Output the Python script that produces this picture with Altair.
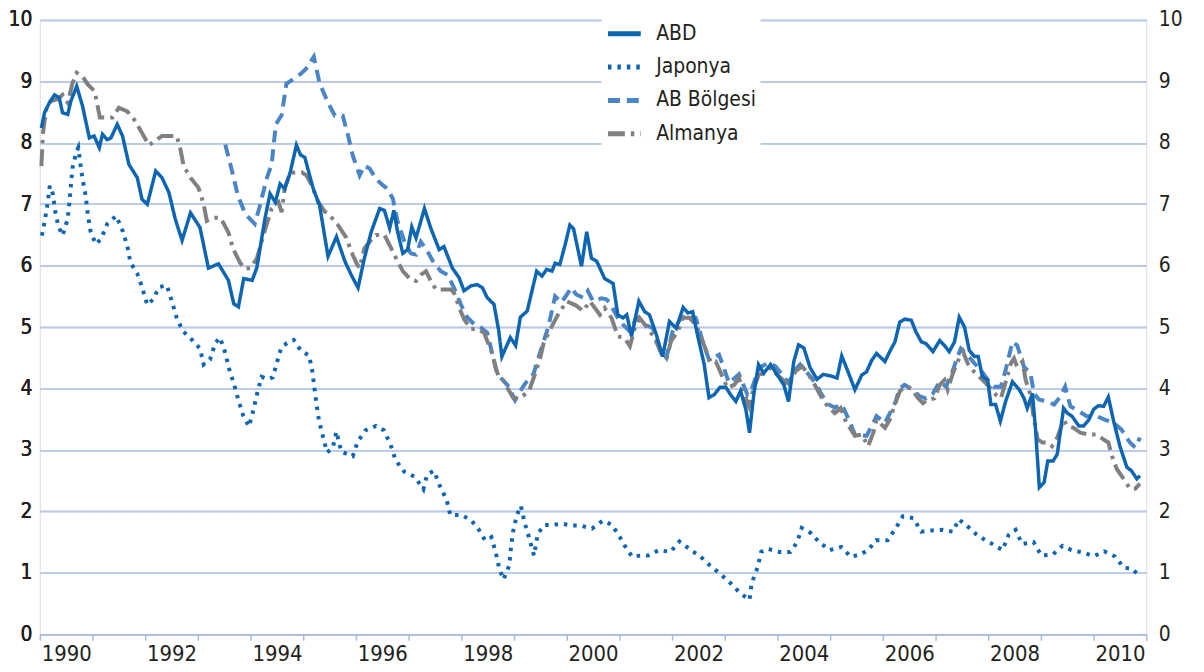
import altair as alt
import pandas as pd

# (decimal year, yield %)
abd = [
    (1990.03, 8.24), (1990.09, 8.49), (1990.18, 8.65), (1990.28, 8.78), (1990.37, 8.73),
    (1990.43, 8.49), (1990.53, 8.46), (1990.59, 8.68), (1990.70, 8.92), (1990.81, 8.60),
    (1990.94, 8.08), (1991.03, 8.11), (1991.13, 7.92), (1991.19, 8.14), (1991.28, 8.05),
    (1991.35, 8.08), (1991.47, 8.30), (1991.57, 8.11), (1991.69, 7.65), (1991.85, 7.43),
    (1991.94, 7.08), (1992.04, 7.00), (1992.20, 7.54), (1992.32, 7.43), (1992.45, 7.19),
    (1992.57, 6.76), (1992.70, 6.41), (1992.86, 6.86), (1993.04, 6.62), (1993.20, 5.96),
    (1993.39, 6.03), (1993.58, 5.76), (1993.68, 5.38), (1993.77, 5.33), (1993.87, 5.79),
    (1994.03, 5.76), (1994.12, 5.97), (1994.28, 6.80), (1994.37, 7.17), (1994.47, 7.03),
    (1994.56, 7.33), (1994.65, 7.25), (1994.75, 7.51), (1994.87, 7.96), (1994.95, 7.80),
    (1995.03, 7.76), (1995.19, 7.25), (1995.31, 6.98), (1995.47, 6.15), (1995.63, 6.47),
    (1995.79, 6.07), (1995.91, 5.85), (1996.04, 5.64), (1996.16, 6.12), (1996.29, 6.55),
    (1996.45, 6.93), (1996.54, 6.90), (1996.64, 6.61), (1996.72, 6.90), (1996.79, 6.55),
    (1996.89, 6.20), (1996.98, 6.26), (1997.06, 6.63), (1997.14, 6.45), (1997.30, 6.93),
    (1997.42, 6.61), (1997.58, 6.26), (1997.67, 6.31), (1997.83, 5.96), (1997.96, 5.80),
    (1998.05, 5.59), (1998.18, 5.67), (1998.30, 5.69), (1998.40, 5.64), (1998.49, 5.48),
    (1998.62, 5.37), (1998.71, 4.94), (1998.77, 4.52), (1998.93, 4.83), (1999.03, 4.70),
    (1999.12, 5.16), (1999.25, 5.26), (1999.43, 5.91), (1999.53, 5.83), (1999.62, 5.94),
    (1999.72, 5.91), (1999.78, 6.04), (1999.87, 6.02), (1999.97, 6.34), (2000.06, 6.66),
    (2000.13, 6.60), (2000.28, 5.99), (2000.38, 6.55), (2000.47, 6.12), (2000.57, 6.07),
    (2000.72, 5.79), (2000.88, 5.71), (2000.97, 5.20), (2001.07, 5.15), (2001.14, 5.20),
    (2001.23, 4.85), (2001.37, 5.42), (2001.48, 5.25), (2001.57, 5.20), (2001.70, 4.88),
    (2001.82, 4.52), (2001.95, 5.09), (2002.08, 4.98), (2002.21, 5.32), (2002.30, 5.23),
    (2002.39, 5.25), (2002.48, 4.88), (2002.61, 4.39), (2002.70, 3.85), (2002.80, 3.90),
    (2002.91, 4.02), (2003.02, 4.02), (2003.11, 3.90), (2003.21, 3.79), (2003.30, 3.96),
    (2003.40, 3.66), (2003.47, 3.28), (2003.55, 3.90), (2003.64, 4.39), (2003.74, 4.25),
    (2003.87, 4.39), (2003.99, 4.23), (2004.12, 4.06), (2004.21, 3.79), (2004.31, 4.44),
    (2004.40, 4.71), (2004.50, 4.66), (2004.62, 4.34), (2004.75, 4.15), (2004.87, 4.23),
    (2005.03, 4.20), (2005.13, 4.17), (2005.22, 4.53), (2005.35, 4.25), (2005.47, 3.98),
    (2005.60, 4.22), (2005.69, 4.27), (2005.79, 4.46), (2005.88, 4.57), (2006.04, 4.44),
    (2006.13, 4.60), (2006.23, 4.76), (2006.32, 5.08), (2006.42, 5.13), (2006.54, 5.11),
    (2006.63, 4.92), (2006.73, 4.76), (2006.82, 4.73), (2006.95, 4.60), (2007.08, 4.78),
    (2007.17, 4.70), (2007.26, 4.60), (2007.36, 4.76), (2007.45, 5.16), (2007.55, 5.00),
    (2007.64, 4.62), (2007.74, 4.52), (2007.81, 4.52), (2007.89, 4.19), (2007.99, 4.14),
    (2008.05, 3.74), (2008.14, 3.74), (2008.23, 3.47), (2008.33, 3.79), (2008.46, 4.11),
    (2008.59, 3.98), (2008.68, 3.84), (2008.74, 3.68), (2008.84, 3.92), (2008.90, 3.31),
    (2008.97, 2.39), (2009.06, 2.47), (2009.13, 2.82), (2009.23, 2.82), (2009.31, 2.93),
    (2009.43, 3.68), (2009.50, 3.60), (2009.59, 3.55), (2009.72, 3.39), (2009.81, 3.39),
    (2009.91, 3.49), (2010.00, 3.66), (2010.09, 3.72), (2010.19, 3.71), (2010.28, 3.86),
    (2010.38, 3.47), (2010.50, 3.06), (2010.63, 2.72), (2010.72, 2.66), (2010.82, 2.53),
    (2010.88, 2.58),
]

japonya = [
    (1990.04, 6.49), (1990.10, 6.76), (1990.15, 7.03), (1990.19, 7.30), (1990.25, 7.16),
    (1990.29, 6.89), (1990.35, 6.65), (1990.43, 6.49), (1990.53, 6.76), (1990.58, 7.20),
    (1990.62, 7.59), (1990.69, 7.84), (1990.73, 7.92), (1990.77, 7.65), (1990.81, 7.41),
    (1990.87, 7.14), (1990.91, 6.84), (1990.96, 6.57), (1991.06, 6.35), (1991.16, 6.43),
    (1991.28, 6.68), (1991.45, 6.81), (1991.57, 6.57), (1991.66, 6.32), (1991.72, 6.05),
    (1991.85, 5.87), (1991.94, 5.65), (1992.04, 5.36), (1992.16, 5.46), (1992.26, 5.65),
    (1992.41, 5.68), (1992.51, 5.41), (1992.59, 5.17), (1992.71, 4.94), (1992.89, 4.79),
    (1993.04, 4.65), (1993.11, 4.39), (1993.23, 4.47), (1993.33, 4.74), (1993.42, 4.83),
    (1993.52, 4.58), (1993.59, 4.33), (1993.69, 4.06), (1993.77, 3.81), (1993.86, 3.56),
    (1993.97, 3.38), (1994.06, 3.67), (1994.13, 3.94), (1994.21, 4.19), (1994.33, 4.15),
    (1994.42, 4.18), (1994.50, 4.42), (1994.58, 4.66), (1994.69, 4.74), (1994.82, 4.79),
    (1994.96, 4.61), (1995.11, 4.54), (1995.17, 4.29), (1995.21, 4.02), (1995.25, 3.75),
    (1995.30, 3.47), (1995.37, 3.23), (1995.45, 2.96), (1995.56, 3.03), (1995.63, 3.30),
    (1995.72, 2.97), (1995.94, 2.90), (1996.03, 3.13), (1996.18, 3.32), (1996.38, 3.39),
    (1996.53, 3.32), (1996.66, 3.08), (1996.75, 2.84), (1996.91, 2.65), (1997.12, 2.56),
    (1997.28, 2.36), (1997.35, 2.60), (1997.48, 2.66), (1997.59, 2.42), (1997.72, 2.19),
    (1997.79, 1.94), (1998.01, 1.94), (1998.19, 1.85), (1998.32, 1.72), (1998.45, 1.53),
    (1998.57, 1.58), (1998.65, 1.34), (1998.72, 1.07), (1998.80, 0.89), (1998.91, 1.12),
    (1998.94, 1.39), (1998.98, 1.66), (1999.05, 1.93), (1999.13, 2.09), (1999.20, 1.82),
    (1999.29, 1.56), (1999.38, 1.28), (1999.45, 1.63), (1999.57, 1.78), (1999.73, 1.78),
    (1999.91, 1.80), (2000.09, 1.77), (2000.26, 1.77), (2000.48, 1.72), (2000.69, 1.85),
    (2000.86, 1.78), (2001.01, 1.58), (2001.15, 1.37), (2001.25, 1.26), (2001.39, 1.28),
    (2001.54, 1.28), (2001.75, 1.37), (2001.97, 1.34), (2002.14, 1.51), (2002.34, 1.38),
    (2002.53, 1.27), (2002.72, 1.12), (2002.93, 0.97), (2003.11, 0.83), (2003.29, 0.67),
    (2003.47, 0.56), (2003.51, 0.83), (2003.62, 1.08), (2003.69, 1.34), (2003.81, 1.39),
    (2004.04, 1.34), (2004.24, 1.34), (2004.37, 1.49), (2004.46, 1.73), (2004.63, 1.65),
    (2004.79, 1.50), (2004.99, 1.37), (2005.21, 1.42), (2005.39, 1.26), (2005.58, 1.30),
    (2005.72, 1.37), (2005.87, 1.53), (2006.09, 1.53), (2006.24, 1.72), (2006.38, 1.92),
    (2006.58, 1.89), (2006.73, 1.67), (2006.93, 1.69), (2007.13, 1.70), (2007.33, 1.67),
    (2007.44, 1.87), (2007.59, 1.77), (2007.77, 1.63), (2007.93, 1.54), (2008.12, 1.45),
    (2008.27, 1.37), (2008.39, 1.62), (2008.52, 1.70), (2008.64, 1.47), (2008.86, 1.50),
    (2009.01, 1.28), (2009.23, 1.30), (2009.41, 1.44), (2009.58, 1.37), (2009.80, 1.33),
    (2010.00, 1.27), (2010.20, 1.35), (2010.40, 1.27), (2010.58, 1.08), (2010.73, 1.07),
    (2010.88, 0.94),
]

ab_bolgesi = [
    (1993.52, 7.97), (1993.64, 7.57), (1993.76, 7.14), (1993.90, 6.84), (1994.08, 6.68),
    (1994.17, 6.95), (1994.30, 7.40), (1994.40, 7.65), (1994.48, 8.30), (1994.59, 8.45),
    (1994.68, 8.96), (1994.82, 9.04), (1994.95, 9.12), (1995.05, 9.20), (1995.20, 9.40),
    (1995.31, 8.97), (1995.47, 8.65), (1995.60, 8.44), (1995.75, 8.44), (1995.85, 8.12),
    (1995.94, 7.79), (1996.07, 7.47), (1996.16, 7.63), (1996.26, 7.58), (1996.38, 7.41),
    (1996.51, 7.31), (1996.60, 7.25), (1996.70, 7.09), (1996.79, 6.72), (1996.92, 6.39),
    (1997.04, 6.20), (1997.14, 6.18), (1997.23, 6.39), (1997.36, 6.23), (1997.48, 6.04),
    (1997.61, 5.91), (1997.74, 5.85), (1997.86, 5.64), (1997.99, 5.37), (1998.11, 5.16),
    (1998.24, 5.05), (1998.36, 5.00), (1998.49, 4.91), (1998.68, 4.24), (1998.90, 4.03),
    (1999.02, 3.81), (1999.15, 4.00), (1999.21, 4.08), (1999.37, 4.24), (1999.50, 4.60),
    (1999.65, 5.00), (1999.78, 5.50), (1999.90, 5.40), (2000.09, 5.64), (2000.18, 5.53),
    (2000.31, 5.48), (2000.40, 5.59), (2000.50, 5.42), (2000.66, 5.47), (2000.76, 5.45),
    (2000.85, 5.34), (2000.97, 5.15), (2001.07, 5.04), (2001.20, 4.93), (2001.32, 5.15),
    (2001.48, 5.04), (2001.64, 4.98), (2001.76, 4.66), (2001.89, 4.50), (2002.01, 4.93),
    (2002.17, 5.15), (2002.33, 5.20), (2002.45, 5.15), (2002.58, 4.77), (2002.70, 4.47),
    (2002.89, 4.55), (2002.96, 4.39), (2003.08, 4.09), (2003.27, 4.23), (2003.43, 3.90),
    (2003.52, 4.01), (2003.65, 4.34), (2003.84, 4.42), (2003.96, 4.36), (2004.09, 4.23),
    (2004.21, 4.09), (2004.34, 4.31), (2004.43, 4.39), (2004.59, 4.23), (2004.72, 4.09),
    (2004.84, 3.90), (2004.97, 3.74), (2005.09, 3.69), (2005.22, 3.74), (2005.35, 3.50),
    (2005.47, 3.25), (2005.69, 3.23), (2005.79, 3.39), (2005.88, 3.55), (2006.04, 3.44),
    (2006.23, 3.76), (2006.32, 4.00), (2006.41, 4.06), (2006.57, 3.98), (2006.70, 3.87),
    (2006.82, 3.84), (2006.95, 3.92), (2007.08, 4.11), (2007.20, 4.03), (2007.33, 4.30),
    (2007.42, 4.52), (2007.48, 4.65), (2007.61, 4.54), (2007.74, 4.41), (2007.86, 4.30),
    (2007.99, 4.14), (2008.11, 4.03), (2008.24, 4.03), (2008.33, 4.30), (2008.46, 4.76),
    (2008.55, 4.70), (2008.68, 4.35), (2008.80, 4.25), (2008.87, 3.92), (2008.96, 3.82),
    (2009.12, 3.79), (2009.25, 3.74), (2009.37, 3.87), (2009.46, 4.03), (2009.56, 3.71),
    (2009.72, 3.63), (2009.87, 3.55), (2010.06, 3.55), (2010.22, 3.49), (2010.38, 3.44),
    (2010.53, 3.33), (2010.69, 3.12), (2010.79, 3.04), (2010.88, 3.20),
]

almanya = [
    (1990.03, 7.62), (1990.06, 8.16), (1990.12, 8.54), (1990.21, 8.68), (1990.34, 8.71),
    (1990.43, 8.78), (1990.53, 8.65), (1990.62, 8.97), (1990.70, 9.14), (1990.81, 9.08),
    (1990.91, 8.95), (1991.04, 8.84), (1991.11, 8.54), (1991.14, 8.41), (1991.38, 8.41),
    (1991.50, 8.57), (1991.66, 8.51), (1991.79, 8.38), (1991.94, 8.16), (1992.07, 7.96),
    (1992.19, 8.03), (1992.32, 8.11), (1992.60, 8.11), (1992.67, 7.89), (1992.73, 7.62),
    (1992.86, 7.43), (1993.01, 7.27), (1993.11, 7.00), (1993.17, 6.73), (1993.30, 6.78),
    (1993.42, 6.78), (1993.48, 6.70), (1993.58, 6.54), (1993.67, 6.27), (1993.80, 6.05),
    (1993.89, 5.95), (1994.00, 5.96), (1994.12, 6.12), (1994.28, 6.60), (1994.40, 6.93),
    (1994.53, 7.03), (1994.59, 6.87), (1994.65, 7.27), (1994.75, 7.51), (1994.97, 7.52),
    (1995.06, 7.47), (1995.16, 7.31), (1995.28, 7.04), (1995.41, 6.88), (1995.50, 6.82),
    (1995.66, 6.66), (1995.82, 6.45), (1995.91, 6.23), (1996.01, 6.04), (1996.07, 5.96),
    (1996.16, 6.28), (1996.29, 6.42), (1996.38, 6.50), (1996.54, 6.50), (1996.67, 6.28),
    (1996.79, 6.07), (1996.89, 5.91), (1997.04, 5.77), (1997.14, 5.75), (1997.23, 5.85),
    (1997.33, 5.91), (1997.42, 5.75), (1997.52, 5.61), (1997.80, 5.61), (1997.86, 5.56),
    (1997.96, 5.32), (1998.05, 5.13), (1998.18, 4.97), (1998.30, 4.97), (1998.43, 4.91),
    (1998.59, 4.56), (1998.65, 4.35), (1998.71, 4.19), (1998.80, 4.13), (1998.90, 3.97),
    (1998.99, 3.84), (1999.09, 3.84), (1999.18, 3.89), (1999.28, 3.95), (1999.40, 4.24),
    (1999.50, 4.51), (1999.56, 4.73), (1999.68, 4.95), (1999.84, 5.21), (2000.00, 5.42),
    (2000.18, 5.35), (2000.31, 5.26), (2000.44, 5.42), (2000.63, 5.20), (2000.72, 5.31),
    (2000.85, 5.15), (2000.97, 4.85), (2001.10, 4.82), (2001.20, 4.69), (2001.29, 4.98),
    (2001.38, 5.15), (2001.51, 5.01), (2001.67, 4.82), (2001.79, 4.58), (2001.89, 4.47),
    (2001.98, 4.77), (2002.11, 4.93), (2002.20, 5.15), (2002.33, 5.15), (2002.45, 5.04),
    (2002.52, 4.90), (2002.64, 4.63), (2002.74, 4.42), (2002.83, 4.44), (2003.05, 4.01),
    (2003.18, 4.06), (2003.27, 4.17), (2003.37, 3.90), (2003.46, 3.71), (2003.55, 4.01),
    (2003.65, 4.23), (2003.77, 4.25), (2003.87, 4.34), (2003.96, 4.25), (2004.09, 4.15),
    (2004.21, 4.04), (2004.34, 4.28), (2004.47, 4.36), (2004.59, 4.23), (2004.72, 4.04),
    (2004.84, 3.85), (2004.97, 3.69), (2005.09, 3.60), (2005.20, 3.68), (2005.31, 3.44),
    (2005.47, 3.23), (2005.60, 3.25), (2005.72, 3.06), (2005.82, 3.28), (2005.88, 3.49),
    (2006.04, 3.36), (2006.13, 3.49), (2006.23, 3.74), (2006.32, 3.95), (2006.41, 4.03),
    (2006.54, 4.00), (2006.67, 3.84), (2006.76, 3.76), (2006.86, 3.82), (2006.98, 3.84),
    (2007.08, 4.06), (2007.17, 4.14), (2007.23, 3.98), (2007.33, 4.25), (2007.42, 4.44),
    (2007.52, 4.60), (2007.61, 4.41), (2007.70, 4.30), (2007.80, 4.22), (2007.89, 4.14),
    (2008.02, 4.03), (2008.11, 3.92), (2008.24, 3.84), (2008.36, 4.19), (2008.43, 4.41),
    (2008.49, 4.49), (2008.55, 4.35), (2008.65, 4.44), (2008.71, 4.14), (2008.80, 3.90),
    (2008.87, 3.49), (2008.94, 3.17), (2009.03, 3.12), (2009.12, 3.12), (2009.21, 3.06),
    (2009.31, 3.20), (2009.43, 3.49), (2009.50, 3.39), (2009.62, 3.36), (2009.75, 3.28),
    (2009.91, 3.25), (2010.06, 3.25), (2010.19, 3.17), (2010.28, 3.12), (2010.35, 2.90),
    (2010.44, 2.69), (2010.57, 2.53), (2010.69, 2.37), (2010.79, 2.37), (2010.88, 2.45),
]

series_names = ["ABD", "Japonya", "AB Bölgesi", "Almanya"]
series_colors = ["#0E65B2", "#0E65B2", "#4A85C6", "#808080"]
series_dash = [[1, 0], [3.5, 6], [12, 7], [17, 6, 3.5, 6]]
year_ticks = list(range(1990, 2012))
value_ticks = list(range(0, 11))

rows = []
for name, pts in zip(series_names, [abd, japonya, ab_bolgesi, almanya]):
    for t, v in pts:
        rows.append({"seri": name, "t": t, "v": v})
df = pd.DataFrame(rows)

FONT = "Liberation Sans Narrow, Arial Narrow, DejaVu Sans Condensed, sans-serif"
GRID = "#B8C9EA"
TEXT = "#231F20"

color = alt.Color(
    "seri:N",
    scale=alt.Scale(domain=series_names, range=series_colors),
    legend=alt.Legend(
        title=None, orient="none", legendX=565, legendY=-9,
        symbolType="stroke", symbolSize=1089, symbolStrokeWidth=5,
        labelFont=FONT, labelFontSize=21, labelColor=TEXT, labelOffset=13,
        rowPadding=4.5, padding=4, fillColor="white",
    ),
)
dash = alt.StrokeDash("seri:N", scale=alt.Scale(domain=series_names, range=series_dash), legend=None)

xenc = alt.X(
    "t:Q",
    scale=alt.Scale(domain=[1990, 2011], nice=False, zero=False),
    axis=alt.Axis(
        title=None, values=year_ticks, grid=False,
        labelExpr="datum.value % 2 == 0 ? '' + datum.value : ''",
        labelOffset=26.5, labelFlush=False, labelOverlap=False, labelBound=False,
        labelFont=FONT, labelFontSize=22, labelColor=TEXT, labelPadding=3,
        tickSize=6, tickColor="#A9B9D6", tickWidth=1.5,
        domainColor="#A9B9D6", domainWidth=1.5,
    ),
)


def yenc(orient, grid):
    return alt.Y(
        "v:Q",
        scale=alt.Scale(domain=[0, 10], nice=False, zero=True),
        axis=alt.Axis(
            title=None, orient=orient, values=value_ticks, grid=grid,
            gridColor=GRID, gridWidth=1.5, domain=False, ticks=False,
            labelFont=FONT, labelFontSize=21, labelColor=TEXT,
            labelPadding=8 if orient == "left" else 12,
        ),
    )


def layer(name, width, orient, grid):
    return (
        alt.Chart(df)
        .transform_filter(alt.datum.seri == name)
        .mark_line(strokeWidth=width, strokeJoin="miter")
        .encode(x=xenc, y=yenc(orient, grid), color=color, strokeDash=dash)
    )


chart = (
    alt.layer(
        layer("AB Bölgesi", 4, "left", True),
        layer("Almanya", 4, "left", True),
        layer("Japonya", 4, "left", True),
        layer("ABD", 3.5, "right", False),
    )
    .resolve_axis(y="independent")
    .properties(
        width=1113, height=618, autosize="none",
        padding={"left": 32, "top": 10, "right": 50, "bottom": 35},
    )
    .configure_view(stroke=None)
    .configure(background="white")
)

chart.save("out.html", embed_options={"renderer": "svg", "actions": False})
